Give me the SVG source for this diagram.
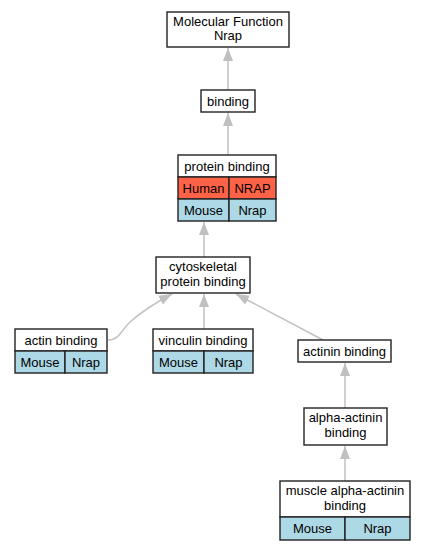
<svg xmlns="http://www.w3.org/2000/svg" width="424" height="549" viewBox="0 0 424 549">
<defs>
<marker id="ah" viewBox="0 0 13 10" refX="13" refY="5" markerWidth="13" markerHeight="10" markerUnits="userSpaceOnUse" orient="auto">
<path d="M0,0 L13,5 L0,10 z" fill="#c0c0c0"/>
</marker>
<style>
.box{fill:#fff;stroke:#222;stroke-width:1.4}
.hu{fill:#ff6347;stroke:#222;stroke-width:1.4}
.mo{fill:#add8e6;stroke:#222;stroke-width:1.4}
text{font-family:"Liberation Sans",Arial,sans-serif;font-size:13px;fill:#000;text-anchor:middle}
.e{fill:none;stroke:#c0c0c0;stroke-width:1.5}
</style>
</defs>
<rect width="424" height="549" fill="#fff"/>
<g id="connectors">
<path class="e" d="M228,90 L228,48" marker-end="url(#ah)"/>
<path class="e" d="M228,155 L228,113" marker-end="url(#ah)"/>
<path class="e" d="M204,257 L204,222" marker-end="url(#ah)"/>
<path class="e" d="M204,329 L204,294" marker-end="url(#ah)"/>
<path class="e" d="M108,340 C120,340 121,330 130,322 C140,313 155,303 172,294" marker-end="url(#ah)"/>
<path class="e" d="M323,340 L236,294" marker-end="url(#ah)"/>
<path class="e" d="M345,408 L345,363" marker-end="url(#ah)"/>
<path class="e" d="M345,481 L345,446" marker-end="url(#ah)"/>
</g>
<g id="mf">
<rect class="box" x="167" y="12" width="122" height="35"/>
<text x="228" y="26">Molecular Function</text>
<text x="228" y="40">Nrap</text>
</g>
<g id="binding">
<rect class="box" x="201" y="90" width="54" height="22"/>
<text x="228" y="105.5">binding</text>
</g>
<g id="protein-binding">
<rect class="box" x="178" y="155" width="98" height="22"/>
<text x="227" y="170.5">protein binding</text>
<rect class="hu" x="178" y="177" width="51" height="22"/>
<rect class="hu" x="229" y="177" width="47" height="22"/>
<text x="203.5" y="192.5">Human</text>
<text x="252.5" y="192.5">NRAP</text>
<rect class="mo" x="178" y="199" width="51" height="22"/>
<rect class="mo" x="229" y="199" width="47" height="22"/>
<text x="203.5" y="214.5">Mouse</text>
<text x="252.5" y="214.5">Nrap</text>
</g>
<g id="cytoskeletal">
<rect class="box" x="156" y="257" width="94" height="36"/>
<text x="203" y="271">cytoskeletal</text>
<text x="203" y="286">protein binding</text>
</g>
<g id="actin-binding">
<rect class="box" x="15" y="329" width="92" height="22"/>
<text x="61" y="344.5">actin binding</text>
<rect class="mo" x="15" y="351" width="50" height="22"/>
<rect class="mo" x="65" y="351" width="42" height="22"/>
<text x="40" y="366.5">Mouse</text>
<text x="86" y="366.5">Nrap</text>
</g>
<g id="vinculin-binding">
<rect class="box" x="153" y="329" width="100" height="22"/>
<text x="203" y="344.5">vinculin binding</text>
<rect class="mo" x="153" y="351" width="51" height="22"/>
<rect class="mo" x="204" y="351" width="49" height="22"/>
<text x="178.5" y="366.5">Mouse</text>
<text x="228.5" y="366.5">Nrap</text>
</g>
<g id="actinin-binding">
<rect class="box" x="298" y="340" width="93" height="22"/>
<text x="344.5" y="355.5">actinin binding</text>
</g>
<g id="alpha-actinin-binding">
<rect class="box" x="304" y="408" width="83" height="37"/>
<text x="345.5" y="422">alpha-actinin</text>
<text x="345.5" y="437">binding</text>
</g>
<g id="muscle-alpha-actinin-binding">
<rect class="box" x="280" y="481" width="130" height="36"/>
<text x="345" y="495">muscle alpha-actinin</text>
<text x="345" y="510">binding</text>
<rect class="mo" x="280" y="517" width="65" height="23"/>
<rect class="mo" x="345" y="517" width="65" height="23"/>
<text x="312.5" y="532.5">Mouse</text>
<text x="377.5" y="532.5">Nrap</text>
</g>
</svg>
